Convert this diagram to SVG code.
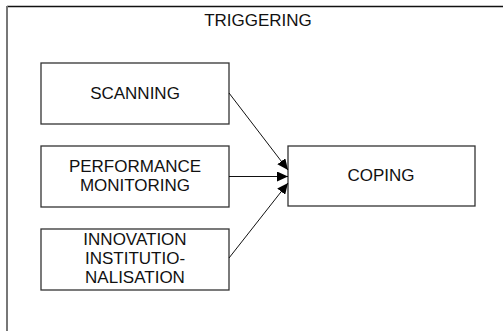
<svg xmlns="http://www.w3.org/2000/svg" width="503" height="331" viewBox="0 0 503 331">
  <defs>
    <style>
      .box { fill: #ffffff; stroke: #333333; stroke-width: 1.3; }
      .lbl { font-family: "Liberation Sans", Arial, sans-serif; font-size: 17px; fill: #111111; text-anchor: middle; }
      .edge { stroke: #111111; stroke-width: 1; fill: none; marker-end: url(#head); }
    </style>
    <marker id="head" markerUnits="userSpaceOnUse" markerWidth="11" markerHeight="10" refX="11" refY="5" orient="auto">
      <path d="M0,0 L11,5 L0,10 z" fill="#000000"/>
    </marker>
  </defs>
  <rect width="503" height="331" fill="#ffffff"/>

  <!-- enclosing frame: top and left edges only -->
  <g id="frame">
    <line x1="7" y1="6.5" x2="503" y2="6.5" stroke="#111111" stroke-width="1.3"/>
    <line x1="7" y1="6" x2="7" y2="331" stroke="#777777" stroke-width="2"/>
    <text class="lbl" x="258" y="26">TRIGGERING</text>
  </g>

  <g id="scanning">
    <rect class="box" x="41" y="63" width="188" height="61"/>
    <text class="lbl" x="135" y="99">SCANNING</text>
  </g>

  <g id="performance-monitoring">
    <rect class="box" x="41" y="146" width="188" height="61"/>
    <text class="lbl" x="135" y="172">PERFORMANCE</text>
    <text class="lbl" x="135" y="191">MONITORING</text>
  </g>

  <g id="innovation-institutionalisation">
    <rect class="box" x="41" y="229" width="188" height="61"/>
    <text class="lbl" x="135" y="245">INNOVATION</text>
    <text class="lbl" x="135" y="264">INSTITUTIO-</text>
    <text class="lbl" x="135" y="283">NALISATION</text>
  </g>

  <g id="coping">
    <rect class="box" x="288" y="146" width="187" height="60"/>
    <text class="lbl" x="381" y="181">COPING</text>
  </g>

  <g id="connectors">
    <line class="edge" x1="229" y1="93" x2="288" y2="170"/>
    <line class="edge" x1="229" y1="176.5" x2="288" y2="176.5"/>
    <line class="edge" x1="229" y1="258" x2="288" y2="183"/>
  </g>
</svg>
